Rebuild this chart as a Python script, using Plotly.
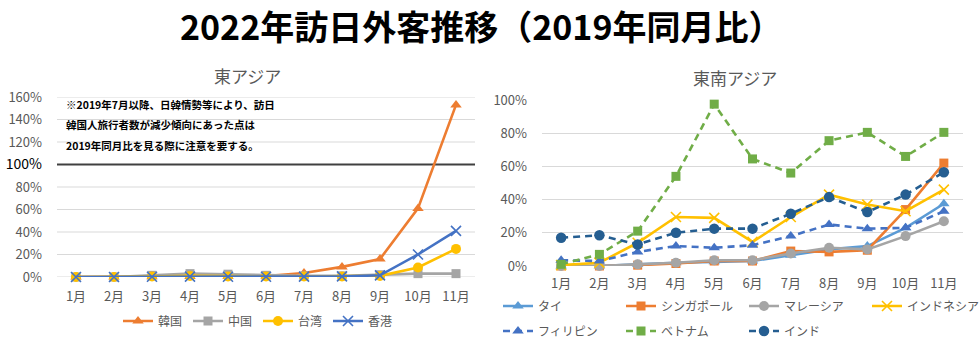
import plotly.graph_objects as go

# Months (categories shared by both panels)
months = ["1月", "2月", "3月", "4月", "5月", "6月", "7月", "8月", "9月", "10月", "11月"]

# East Asia, % of same month in 2019
korea = [0, 0, 0.3, 0.5, 0.5, 0.8, 3.5, 9, 16, 61, 153]
china = [0, 0, 1.5, 3, 2.5, 1.5, 1, 1, 2, 3, 3]
taiwan = [0, 0, 0.5, 1, 0.5, 0.5, 0.5, 0.5, 1, 8.5, 25]
hongkong = [0, 0, 0.2, 0.3, 0.2, 0.2, 0.3, 0.5, 1.5, 20, 41]

# Southeast Asia, % of same month in 2019
thai = [0, 0, 1, 2, 2.5, 3, 6.5, 10, 12, 23, 37.5]
singapore = [0, 0, 0.5, 1.5, 3, 3, 9, 8.5, 9.5, 34, 62]
malaysia = [0, 0, 1, 2, 3.5, 3.5, 7.5, 11, 10, 18, 27]
indonesia = [0.5, 2, 14, 29.5, 29, 14.5, 29.5, 43, 37, 33, 46]
philippines = [3.5, 3, 8.5, 12, 11, 12.5, 18, 25, 22.5, 23, 33]
vietnam = [1, 7, 21, 54, 97.5, 64.5, 56, 75.5, 80.5, 66, 80.5]
india = [17, 18.5, 13, 20, 22.5, 22.5, 31.5, 41.5, 32.5, 43, 56.5]

left_ticks = [0, 20, 40, 60, 80, 100, 120, 140, 160]
right_ticks = [0, 20, 40, 60, 80, 100]
reference_level = 100

FONT = "Noto Sans CJK JP"
GREY = "#595959"
W, H = 979, 347


def px_x(p):
    return p / W


def px_y(p):
    return (H - p) / H


fig = go.Figure()


def add_line(name, y, color, symbol, size, xa, ya, legend, dash="solid"):
    is_x = symbol == "x-thin"
    fig.add_trace(go.Scatter(
        x=months, y=y, name=name, mode="lines+markers",
        xaxis=xa, yaxis=ya, legend=legend, cliponaxis=False,
        line=dict(color=color, width=2.6, dash=dash),
        marker=dict(symbol=symbol, size=size, color=color,
                    line=dict(color=color, width=1.6 if is_x else 0)),
    ))


# East Asia panel
add_line("韓国", korea, "#ED7D31", "triangle-up", 10, "x", "y", "legend")
add_line("中国", china, "#A5A5A5", "square", 9, "x", "y", "legend")
add_line("台湾", taiwan, "#FFC000", "circle", 10, "x", "y", "legend")
add_line("香港", hongkong, "#4472C4", "x-thin", 10, "x", "y", "legend")

# Southeast Asia panel
add_line("タイ", thai, "#5B9BD5", "triangle-up", 10, "x2", "y2", "legend2")
add_line("シンガポール", singapore, "#ED7D31", "square", 9, "x2", "y2", "legend2")
add_line("マレーシア", malaysia, "#A5A5A5", "circle", 10, "x2", "y2", "legend2")
add_line("インドネシア", indonesia, "#FFC000", "x-thin", 10, "x2", "y2", "legend2")
add_line("フィリピン", philippines, "#4472C4", "triangle-up", 10, "x2", "y2", "legend3", dash="7px,5px")
add_line("ベトナム", vietnam, "#70AD47", "square", 9, "x2", "y2", "legend3", dash="7px,5px")
add_line("インド", india, "#255E91", "circle", 10.5, "x2", "y2", "legend3", dash="7px,5px")

tickfont = dict(family=FONT, size=13, color=GREY)

left_text = [
    "<span style='color:#000000;font-size:14px'>100%</span>" if v == reference_level else f"{v}%"
    for v in left_ticks
]

axis_common = dict(showline=False, zeroline=False, fixedrange=True)
legend_font = dict(family=FONT, size=12, color=GREY)

fig.update_layout(
    width=W, height=H,
    margin=dict(l=0, r=0, t=0, b=0, autoexpand=False),
    paper_bgcolor="white", plot_bgcolor="white",
    font=dict(family=FONT, color=GREY),
    xaxis=dict(domain=[px_x(57), px_x(475)], anchor="y", type="category",
               range=[-0.5, 10.5], showgrid=False, tickfont=tickfont,
               ticklabelstandoff=10, **axis_common),
    yaxis=dict(domain=[px_y(277), px_y(97)], anchor="x", range=[0, 160],
               tickvals=left_ticks, ticktext=left_text, showgrid=False,
               tickfont=tickfont, ticklabelstandoff=14, **axis_common),
    xaxis2=dict(domain=[px_x(542), px_x(963)], anchor="y2", type="category",
                range=[-0.5, 10.5], showgrid=False, tickfont=tickfont,
                ticklabelstandoff=8, **axis_common),
    yaxis2=dict(domain=[px_y(266), px_y(100)], anchor="x2", range=[0, 100],
                tickvals=right_ticks, ticktext=[f"{v}%" for v in right_ticks],
                showgrid=True, gridcolor="#D9D9D9", gridwidth=1,
                tickfont=tickfont, ticklabelstandoff=14, **axis_common),
    legend=dict(orientation="h", x=px_x(118), xanchor="left",
                y=px_y(321), yanchor="middle", entrywidth=25,
                font=legend_font, bgcolor="rgba(0,0,0,0)", itemclick=False),
    legend2=dict(orientation="h", x=px_x(498), xanchor="left",
                 y=px_y(306), yanchor="middle", entrywidth=78,
                 font=legend_font, bgcolor="rgba(0,0,0,0)", itemclick=False),
    legend3=dict(orientation="h", x=px_x(498), xanchor="left",
                 y=px_y(331), yanchor="middle", entrywidth=78,
                 font=legend_font, bgcolor="rgba(0,0,0,0)", itemclick=False),
    showlegend=True,
)

# Gridlines of the East Asia panel, with the 100% level emphasised
for v in left_ticks:
    is_ref = v == reference_level
    fig.add_shape(type="line", xref="x domain", yref="y", x0=0, x1=1, y0=v, y1=v,
                  line=dict(color="#404040" if is_ref else "#D9D9D9",
                            width=2 if is_ref else 1),
                  layer="below")

# Titles
fig.add_annotation(text="<b>2022年訪日外客推移（2019年同月比）</b>", x=px_x(481), y=px_y(26),
                   xref="paper", yref="paper", showarrow=False, xanchor="center",
                   yanchor="middle", font=dict(family=FONT, size=34, color="#000000"))
fig.add_annotation(text="東アジア", x=px_x(247), y=px_y(75), xref="paper", yref="paper",
                   showarrow=False, xanchor="center", yanchor="middle",
                   font=dict(family=FONT, size=17, color=GREY))
fig.add_annotation(text="東南アジア", x=px_x(735), y=px_y(78), xref="paper", yref="paper",
                   showarrow=False, xanchor="center", yanchor="middle",
                   font=dict(family=FONT, size=17, color=GREY))

# Note about Korea
note_lines = [
    ("※2019年7月以降、日韓情勢等により、訪日", 105),
    ("韓国人旅行者数が減少傾向にあった点は", 124),
    ("2019年同月比を見る際に注意を要する。", 145),
]
for txt, ypx in note_lines:
    fig.add_annotation(text=f"<b>{txt}</b>", x=px_x(64), y=px_y(ypx), xref="paper",
                       yref="paper", showarrow=False, xanchor="left", yanchor="middle",
                       font=dict(family=FONT, size=10.5, color="#000000"))

fig.write_html("out.html")
